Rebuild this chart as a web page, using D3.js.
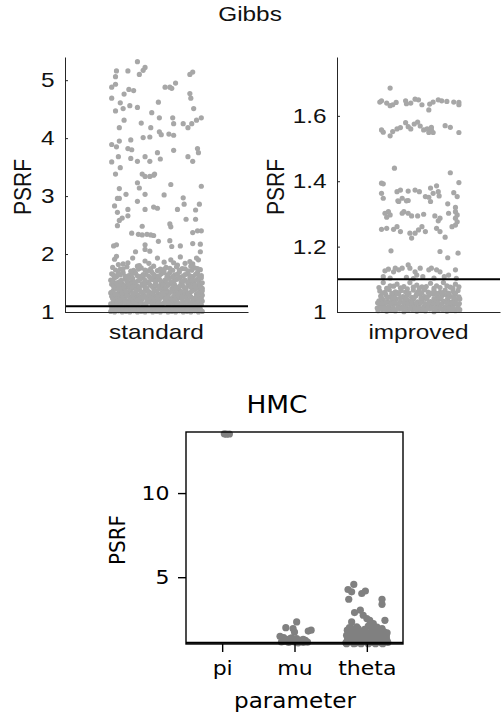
<!DOCTYPE html>
<html><head><meta charset="utf-8">
<script src="https://cdn.jsdelivr.net/npm/d3@7"></script>
<style>body{margin:0;background:#fff}svg{display:block}</style>
</head><body><svg id="c" width="501" height="716"></svg>
<script>
// ---------------- DATA ----------------
const gibbsTitle = "Gibbs";
const hmcTitle = "HMC";
const yLabel = "PSRF";
const xLabelHMC = "parameter";
const threshold = 1.1;
const standardCategory = ["standard"];
const improvedCategory = ["improved"];
const standardTicks = [1, 2, 3, 4, 5];
const improvedTicks = [1, 1.2, 1.4, 1.6];
const hmcCategories = ["pi", "mu", "theta"];
const hmcTicks = [5, 10];

// [jitter (fraction of band), PSRF]
const standardPoints = [
[-0.20,5.32],[-0.12,5.22],[-0.14,5.17],[-0.42,5.16],[-0.30,5.16],[-0.43,5.06],[-0.18,5.10],[0.38,5.14],[0.35,5.10],
[-0.43,4.93],[-0.47,4.88],[-0.34,4.76],[-0.29,4.84],[-0.24,4.82],[0.09,4.88],[0.14,4.88],[0.16,4.86],[0.20,4.95],[0.35,4.77],[0.36,4.69],
[-0.47,4.69],[-0.38,4.61],[-0.28,4.56],[-0.35,4.51],[-0.20,4.53],[-0.43,4.47],[0.02,4.62],[-0.05,4.44],[0.39,4.51],
[0.03,4.35],[-0.34,4.31],[0.17,4.35],[0.18,4.25],[0.28,4.25],[0.37,4.25],[0.33,4.18],[0.42,4.31],[0.47,4.35],[-0.16,4.26],[-0.06,4.18],[-0.39,4.18],
[0.03,4.11],[0.05,4.06],[0.13,4.07],[0.18,4.05],[-0.14,4.01],[-0.07,4.02],[-0.27,3.97],[-0.39,3.95],[-0.47,3.89],[-0.42,3.85],[-0.30,3.82],[-0.26,3.80],[0.01,3.75],[0.18,3.79],[0.43,3.82],[0.44,3.75],
[-0.47,3.59],[-0.40,3.68],[-0.27,3.65],[-0.20,3.60],[-0.12,3.68],[-0.07,3.60],[0.04,3.64],[0.33,3.68],[0.38,3.60],
[-0.38,3.49],[-0.43,3.38],[-0.15,3.38],[-0.12,3.34],[-0.07,3.34],[-0.03,3.36],[-0.02,3.38],
[-0.20,3.23],[-0.18,3.14],[0.15,3.20],[0.47,3.17],[-0.39,3.13],[-0.32,3.03],[-0.12,3.03],[0.08,3.02],[-0.41,2.96],[-0.39,2.96],[0.28,2.97],[-0.20,2.91],
[-0.44,2.83],[0.29,2.86],[0.45,2.86],[-0.30,2.77],[-0.12,2.77],[-0.03,2.81],[0.01,2.79],[0.22,2.77],[0.41,2.76],[-0.41,2.72],[-0.30,2.66],[-0.36,2.62],[-0.39,2.58],[0.31,2.60],[0.41,2.60],
[-0.41,2.49],[-0.15,2.48],[0.14,2.52],[0.15,2.47],[-0.26,2.36],[-0.19,2.34],[-0.15,2.33],[-0.10,2.34],[-0.06,2.33],[-0.03,2.32],[0.38,2.37],[0.43,2.40],[0.47,2.40],
[0.02,2.22],[0.14,2.23],[-0.45,2.14],[-0.42,2.16],[-0.12,2.16],[0.16,2.13],[0.25,2.14],[0.38,2.18],[0.46,2.17],[-0.22,2.04],[-0.12,2.08],[-0.07,2.05],[0.46,2.04],
[-0.44,1.91],[-0.12,1.88],[0.01,1.93],[0.15,1.90],[0.44,1.90],[-0.30,1.85],[0.08,1.86],[0.30,1.84],[-0.40,1.82],[0.22,1.81],[-0.18,1.80],[0.38,1.83],
[-0.46,1.77],[-0.38,1.74],[-0.31,1.78],[-0.24,1.72],[-0.16,1.76],[-0.09,1.71],[-0.03,1.79],[0.04,1.74],[0.10,1.77],[0.17,1.72],[0.21,1.78],[0.27,1.75],[0.33,1.71],[0.40,1.76],[0.46,1.73],[-0.20,1.79],[0.06,1.70],[0.36,1.79],
[-0.47,1.66],[-0.42,1.61],[-0.35,1.68],[-0.29,1.63],[-0.22,1.67],[-0.17,1.61],[-0.11,1.65],[-0.05,1.69],[0.00,1.62],[0.05,1.66],[0.11,1.61],[0.14,1.68],[0.19,1.64],[0.24,1.69],[0.28,1.62],[0.33,1.66],[0.38,1.61],[0.43,1.68],[0.47,1.63],[-0.38,1.64],[-0.02,1.60],[0.25,1.60],
[-0.48,1.55],[-0.44,1.59],[-0.39,1.52],[-0.33,1.57],[-0.27,1.51],[-0.25,1.58],[-0.19,1.54],[-0.14,1.59],[-0.08,1.52],[-0.04,1.56],[0.02,1.58],[0.07,1.51],[0.09,1.55],[0.13,1.59],[0.18,1.53],[0.22,1.57],[0.26,1.51],[0.30,1.55],[0.35,1.58],[0.39,1.52],[0.42,1.56],[0.47,1.59],[-0.11,1.50],[0.16,1.50],[0.45,1.51],
[-0.47,1.48],[-0.43,1.42],[-0.40,1.46],[-0.36,1.49],[-0.32,1.43],[-0.28,1.47],[-0.23,1.41],[-0.20,1.45],[-0.15,1.49],[-0.12,1.43],[-0.07,1.47],[-0.03,1.41],[0.01,1.45],[0.05,1.49],[0.08,1.42],[0.12,1.46],[0.16,1.40],[0.19,1.47],[0.23,1.43],[0.27,1.48],[0.31,1.41],[0.34,1.46],[0.37,1.49],[0.41,1.43],[0.44,1.47],[0.48,1.41],[-0.26,1.50],[0.10,1.50],
[-0.48,1.33],[-0.45,1.38],[-0.41,1.31],[-0.38,1.36],[-0.34,1.39],[-0.30,1.32],[-0.27,1.37],[-0.22,1.34],[-0.18,1.39],[-0.14,1.31],[-0.10,1.36],[-0.06,1.33],[-0.02,1.38],[0.02,1.31],[0.06,1.35],[0.09,1.39],[0.13,1.32],[0.17,1.37],[0.20,1.33],[0.24,1.38],[0.28,1.31],[0.31,1.36],[0.35,1.33],[0.39,1.38],[0.42,1.31],[0.46,1.35],[-0.35,1.30],[-0.08,1.30],[0.25,1.30],[0.47,1.39],
[-0.47,1.27],[-0.44,1.22],[-0.40,1.26],[-0.37,1.29],[-0.33,1.23],[-0.29,1.27],[-0.26,1.21],[-0.22,1.25],[-0.19,1.29],[-0.15,1.22],[-0.11,1.26],[-0.08,1.20],[-0.04,1.24],[-0.01,1.28],[0.03,1.22],[0.07,1.26],[0.10,1.29],[0.14,1.23],[0.18,1.27],[0.21,1.21],[0.25,1.25],[0.29,1.29],[0.32,1.22],[0.36,1.26],[0.40,1.21],[0.43,1.28],[0.47,1.24],[-0.42,1.20],[-0.17,1.20],[0.12,1.20],[0.33,1.20],[0.48,1.29],
[-0.48,1.14],[-0.45,1.18],[-0.42,1.11],[-0.39,1.15],[-0.35,1.19],[-0.32,1.12],[-0.28,1.16],[-0.25,1.10],[-0.21,1.14],[-0.18,1.18],[-0.14,1.11],[-0.11,1.15],[-0.07,1.19],[-0.04,1.12],[0.00,1.16],[0.03,1.10],[0.06,1.14],[0.10,1.18],[0.13,1.11],[0.17,1.15],[0.20,1.19],[0.24,1.12],[0.27,1.16],[0.31,1.10],[0.34,1.14],[0.38,1.18],[0.41,1.11],[0.45,1.15],[0.48,1.19],[-0.30,1.19],[-0.01,1.19],[0.22,1.17],[0.44,1.10],[-0.46,1.10],
[-0.48,1.01],[-0.44,1.00],[-0.40,1.02],[-0.36,1.00],[-0.32,1.01],[-0.28,1.00],[-0.24,1.02],[-0.20,1.00],[-0.16,1.01],[-0.12,1.00],[-0.08,1.02],[-0.04,1.00],[0.00,1.01],[0.04,1.00],[0.08,1.02],[0.12,1.00],[0.16,1.01],[0.20,1.00],[0.24,1.02],[0.28,1.00],[0.32,1.01],[0.36,1.00],[0.40,1.02],[0.44,1.00],[0.48,1.01],
[-0.46,1.04],[-0.42,1.03],[-0.38,1.05],[-0.34,1.03],[-0.30,1.04],[-0.26,1.05],[-0.22,1.03],[-0.18,1.04],[-0.14,1.05],[-0.10,1.03],[-0.06,1.04],[-0.02,1.05],[0.02,1.03],[0.06,1.04],[0.10,1.05],[0.14,1.03],[0.18,1.04],[0.22,1.05],[0.26,1.03],[0.30,1.04],[0.34,1.05],[0.38,1.03],[0.42,1.04],[0.46,1.05],
[-0.47,1.07],[-0.43,1.09],[-0.39,1.06],[-0.35,1.08],[-0.31,1.07],[-0.27,1.09],[-0.23,1.06],[-0.19,1.08],[-0.15,1.07],[-0.11,1.09],[-0.07,1.06],[-0.03,1.08],[0.01,1.07],[0.05,1.09],[0.09,1.06],[0.13,1.08],[0.17,1.07],[0.21,1.09],[0.25,1.06],[0.29,1.08],[0.33,1.07],[0.37,1.09],[0.41,1.06],[0.45,1.08],
[-0.45,1.125],[-0.41,1.165],[-0.37,1.125],[-0.33,1.165],[-0.29,1.125],[-0.24,1.170],[-0.20,1.115],[-0.16,1.160],[-0.12,1.130],[-0.09,1.172],[-0.05,1.150],[-0.02,1.130],[0.02,1.165],[0.05,1.115],[0.08,1.160],[0.12,1.140],[0.15,1.175],[0.19,1.125],[0.22,1.145],[0.26,1.118],[0.29,1.168],[0.33,1.125],[0.36,1.160],[0.40,1.140],[0.43,1.172],[0.47,1.125],
[-0.46,1.235],[-0.42,1.275],[-0.39,1.215],[-0.35,1.250],[-0.31,1.285],[-0.27,1.240],[-0.24,1.270],[-0.20,1.215],[-0.17,1.250],[-0.13,1.285],[-0.10,1.225],[-0.06,1.265],[-0.03,1.210],[0.01,1.245],[0.05,1.285],[0.09,1.225],[0.12,1.265],[0.16,1.215],[0.20,1.245],[0.23,1.280],[0.27,1.225],[0.31,1.260],[0.34,1.295],[0.38,1.235],[0.42,1.265],[0.45,1.215],
[-0.47,1.345],[-0.43,1.310],[-0.40,1.385],[-0.36,1.320],[-0.32,1.355],[-0.28,1.395],[-0.25,1.315],[-0.21,1.365],[-0.16,1.345],[-0.12,1.385],[-0.08,1.350],[-0.04,1.320],[0.00,1.360],[0.04,1.395],[0.08,1.320],[0.11,1.360],[0.15,1.345],[0.19,1.390],[0.22,1.310],[0.26,1.350],[0.30,1.390],[0.33,1.315],[0.37,1.360],[0.41,1.395],[0.44,1.330],[0.48,1.365],
[-0.45,1.445],[-0.41,1.485],[-0.38,1.415],[-0.34,1.455],[-0.30,1.490],[-0.26,1.425],[-0.22,1.470],[-0.18,1.425],[-0.14,1.460],[-0.10,1.405],[-0.05,1.445],[-0.01,1.485],[0.03,1.425],[0.07,1.460],[0.10,1.410],[0.14,1.485],[0.18,1.440],[0.21,1.415],[0.25,1.455],[0.29,1.425],[0.33,1.490],[0.36,1.430],[0.40,1.470],[0.43,1.415],[0.46,1.455],
[-0.46,1.535],[-0.42,1.505],[-0.37,1.545],[-0.31,1.530],[-0.29,1.585],[-0.23,1.520],[-0.17,1.570],[-0.12,1.545],[-0.06,1.585],[-0.01,1.530],[0.04,1.545],[0.11,1.575],[0.15,1.525],[0.20,1.555],[0.24,1.590],[0.28,1.535],[0.33,1.515],[0.37,1.550],[0.44,1.535],[0.48,1.505],
[-0.45,1.635],[-0.40,1.675],[-0.33,1.620],[-0.26,1.655],[-0.20,1.625],[-0.14,1.645],[-0.08,1.615],[-0.03,1.650],[0.03,1.625],[0.08,1.680],[0.12,1.640],[0.17,1.610],[0.22,1.655],[0.30,1.645],[0.35,1.625],[0.41,1.650],[0.45,1.615],
[-0.43,1.725],[-0.35,1.745],[-0.27,1.705],[-0.19,1.740],[-0.12,1.725],[-0.06,1.750],[0.01,1.715],[0.08,1.735],[0.14,1.755],[0.24,1.725],[0.30,1.745],[0.37,1.720],[0.43,1.750],
[-0.35,1.83],[-0.08,1.84],[0.18,1.85],[0.35,1.87],[-0.25,1.93],[0.25,1.95],[-0.42,1.96],[0.42,1.93]
];

const improvedPoints = [
[-0.33,1.685],[-0.45,1.642],[-0.43,1.646],[-0.37,1.639],[-0.33,1.631],[-0.30,1.634],[-0.26,1.641],[-0.14,1.637],[-0.15,1.646],[-0.09,1.639],[-0.04,1.651],[0.00,1.649],[0.04,1.634],[0.12,1.618],[0.13,1.636],[0.17,1.642],[0.23,1.649],[0.27,1.646],[0.33,1.644],[0.41,1.642],[0.47,1.641],[0.47,1.634],
[-0.43,1.557],[-0.41,1.550],[-0.33,1.539],[-0.30,1.552],[-0.25,1.560],[-0.21,1.564],[-0.15,1.579],[-0.12,1.567],[-0.09,1.560],[-0.05,1.575],[-0.01,1.581],[0.02,1.569],[0.06,1.557],[0.10,1.560],[0.12,1.549],[0.15,1.557],[0.17,1.549],[0.15,1.565],[0.31,1.570],[0.37,1.565],[0.47,1.549],
[-0.28,1.440],[0.37,1.426],[-0.43,1.394],[-0.41,1.392],[0.47,1.396],[-0.25,1.368],[-0.21,1.373],[-0.12,1.370],[-0.04,1.373],[0.01,1.368],[0.14,1.379],[0.21,1.386],[0.17,1.363],[0.23,1.368],[0.41,1.365],[0.45,1.353],[-0.43,1.363],[0.08,1.353],[0.12,1.351],[-0.19,1.348],[-0.12,1.341],[-0.24,1.340],[-0.41,1.348],[0.24,1.355],
[-0.23,1.338],[-0.14,1.340],[0.14,1.338],[0.34,1.331],[0.43,1.320],
[-0.39,1.302],[-0.35,1.307],[-0.33,1.297],[-0.37,1.290],[-0.19,1.302],[-0.17,1.307],[-0.12,1.302],[-0.08,1.294],[-0.01,1.294],[0.06,1.299],[0.19,1.294],[0.23,1.279],[0.25,1.287],[0.35,1.302],[0.43,1.307],[0.45,1.297],[0.43,1.287],[0.45,1.276],[0.43,1.266],
[-0.43,1.253],[-0.37,1.256],[-0.29,1.253],[-0.25,1.261],[-0.21,1.246],[-0.10,1.241],[-0.08,1.226],[-0.04,1.241],[0.00,1.251],[0.04,1.261],[0.08,1.246],[0.21,1.256],[0.25,1.246],[0.31,1.229],[0.39,1.261],
[-0.32,1.187],[0.25,1.185],[0.34,1.166],[0.46,1.180],
[-0.39,1.126],[-0.35,1.131],[-0.29,1.123],[-0.27,1.134],[-0.23,1.129],[-0.19,1.134],[-0.12,1.144],[-0.10,1.134],[-0.04,1.123],[0.02,1.134],[-0.02,1.113],[0.12,1.129],[0.15,1.134],[0.21,1.129],[0.25,1.123],[0.35,1.113],[0.43,1.129],
[-0.41,1.108],[-0.33,1.104],[-0.14,1.106],[-0.06,1.102],[0.05,1.108],[0.18,1.104],[0.30,1.108],[0.44,1.103],
[-0.41,1.090],[-0.33,1.080],[-0.25,1.085],[-0.17,1.078],[-0.10,1.090],[-0.02,1.082],[0.04,1.077],[0.14,1.088],[0.21,1.080],[0.29,1.090],[0.37,1.076],[0.43,1.085],
[-0.47,1.004],[-0.42,1.008],[-0.37,1.002],[-0.32,1.006],[-0.27,1.003],[-0.22,1.009],[-0.17,1.001],[-0.12,1.005],[-0.07,1.008],[-0.02,1.002],[0.03,1.006],[0.08,1.003],[0.13,1.009],[0.18,1.001],[0.23,1.005],[0.28,1.008],[0.33,1.002],[0.38,1.006],[0.43,1.004],[0.48,1.007],
[-0.45,1.018],[-0.40,1.022],[-0.35,1.016],[-0.29,1.024],[-0.24,1.019],[-0.19,1.015],[-0.14,1.023],[-0.09,1.017],[-0.04,1.021],[0.01,1.025],[0.06,1.016],[0.11,1.020],[0.16,1.024],[0.21,1.017],[0.26,1.022],[0.31,1.015],[0.36,1.019],[0.41,1.024],[0.46,1.018],
[-0.46,1.034],[-0.41,1.038],[-0.36,1.031],[-0.31,1.036],[-0.26,1.040],[-0.21,1.032],[-0.16,1.037],[-0.11,1.033],[-0.06,1.039],[-0.01,1.031],[0.04,1.035],[0.09,1.040],[0.14,1.032],[0.19,1.036],[0.24,1.039],[0.29,1.033],[0.34,1.037],[0.39,1.031],[0.44,1.038],
[-0.44,1.049],[-0.38,1.053],[-0.33,1.046],[-0.28,1.051],[-0.23,1.055],[-0.18,1.047],[-0.13,1.052],[-0.08,1.045],[-0.03,1.050],[0.02,1.054],[0.07,1.047],[0.12,1.051],[0.17,1.055],[0.22,1.046],[0.27,1.050],[0.32,1.053],[0.37,1.048],[0.42,1.052],[0.47,1.046],
[-0.45,1.064],[-0.39,1.060],[-0.34,1.068],[-0.27,1.062],[-0.20,1.066],[-0.15,1.061],[-0.06,1.067],[0.00,1.063],[0.07,1.069],[0.11,1.061],[0.18,1.065],[0.25,1.060],[0.31,1.067],[0.40,1.063],[0.46,1.066],
[-0.48,1.012],[-0.44,1.013],[-0.395,1.011],[-0.345,1.012],[-0.295,1.013],[-0.245,1.010],[-0.195,1.012],[-0.145,1.013],[-0.095,1.011],[-0.045,1.012],[0.005,1.013],[0.055,1.010],[0.105,1.012],[0.155,1.013],[0.205,1.011],[0.255,1.012],[0.305,1.010],[0.355,1.013],[0.405,1.012],[0.455,1.011],
[-0.475,1.028],[-0.425,1.027],[-0.375,1.029],[-0.325,1.026],[-0.275,1.030],[-0.225,1.027],[-0.175,1.028],[-0.125,1.026],[-0.075,1.029],[-0.025,1.027],[0.025,1.028],[0.075,1.026],[0.125,1.029],[0.175,1.027],[0.225,1.028],[0.275,1.026],[0.325,1.029],[0.375,1.027],[0.425,1.028],[0.475,1.026],
[-0.43,1.043],[-0.36,1.044],[-0.29,1.042],[-0.21,1.043],[-0.14,1.041],[-0.05,1.044],[0.03,1.042],[0.10,1.043],[0.18,1.041],[0.26,1.044],[0.34,1.042],[0.41,1.043],[0.48,1.040],
[-0.42,1.058],[-0.31,1.057],[-0.24,1.059],[-0.11,1.058],[-0.02,1.057],[0.04,1.059],[0.14,1.058],[0.21,1.057],[0.28,1.059],[0.35,1.058],[0.43,1.057],
[-0.46,1.075],[-0.37,1.072],[-0.29,1.079],[-0.21,1.074],[-0.13,1.071],[-0.06,1.076],[0.01,1.073],[0.09,1.078],[0.18,1.072],[0.25,1.075],[0.33,1.080],[0.40,1.073],[0.47,1.077]
];

// [jitter (fraction of category step), PSRF]
const hmcPi = [[0.03,13.52],[0.06,13.50],[0.10,13.51]];
const hmcMu = [
[0.03,2.34],[-0.12,2.00],[-0.02,1.95],[0.00,1.74],[0.19,1.80],[0.23,1.85],[-0.20,1.49],
[-0.15,1.41],[-0.06,1.35],[0.03,1.35],[0.12,1.31],[-0.11,1.29],[-0.02,1.25],[0.08,1.25],[0.15,1.25],
[-0.18,1.15],[-0.08,1.12],[0.05,1.10],[0.18,1.14],[0.10,1.18],[-0.13,1.20],[0.00,1.15],[0.12,1.12],[-0.04,1.40]
];
const hmcTheta = [
[-0.18,4.57],[-0.26,4.27],[-0.21,4.13],[-0.07,4.03],[-0.02,4.18],[-0.25,3.69],[0.21,3.69],[0.21,3.39],
[-0.17,2.90],[-0.09,3.04],[0.25,2.44],[-0.05,2.74],[0.00,2.54],[0.04,2.44],[-0.21,2.34],[0.09,2.24],[0.14,2.04],[0.21,1.95],[-0.24,2.00],[-0.19,1.85],[-0.12,1.95],
[-0.27,1.85],[-0.22,1.97],[-0.14,2.05],[-0.10,1.80],[-0.03,1.90],[0.02,2.10],[0.07,1.95],[0.12,1.78],[0.18,1.88],[0.24,1.75],[0.28,1.70],[-0.19,1.72],[0.05,1.72],
[-0.28,1.55],[-0.24,1.62],[-0.20,1.45],[-0.16,1.58],[-0.12,1.66],[-0.08,1.48],[-0.04,1.60],[0.00,1.52],[0.04,1.65],[0.08,1.44],[0.12,1.57],[0.16,1.50],[0.20,1.63],[0.24,1.46],[0.27,1.56],[-0.26,1.42],[0.10,1.68],
[-0.29,1.10],[-0.27,1.25],[-0.25,1.35],[-0.22,1.15],[-0.19,1.28],[-0.16,1.08],[-0.13,1.20],[-0.10,1.33],[-0.07,1.12],[-0.04,1.24],[-0.01,1.38],[0.02,1.09],[0.05,1.18],[0.08,1.30],[0.11,1.14],[0.14,1.26],[0.17,1.36],[0.20,1.10],[0.23,1.21],[0.26,1.32],[0.29,1.12],[-0.28,1.05],[-0.18,1.05],[-0.08,1.05],[0.02,1.05],[0.12,1.05],[0.22,1.05],[0.28,1.22],
[-0.23,1.50],[-0.14,1.40],[-0.02,1.46],[0.06,1.38],[0.15,1.42],[0.22,1.52],[-0.11,1.15],[0.08,1.12],[0.25,1.16],[-0.21,1.22],
[-0.26,1.30],[-0.17,1.18],[-0.06,1.30],[0.04,1.24],[0.13,1.18],[0.19,1.30],[0.27,1.42],[-0.09,1.62],[0.01,1.34],[-0.15,1.50]
];

// ---------------- DRAW ----------------
const svg = d3.select("#c");
const sansTop = "'Liberation Sans', Arial, Helvetica, sans-serif";
const sansBot = "'DejaVu Sans', sans-serif";
const axisCol = "#262626";
const SXT = 1.16;  // horizontal stretch of the original's text
const SXB = 1.1;

function gibbsPanel(cfg) {
  const g = svg.append("g");
  const x = d3.scaleBand().domain(cfg.cat).range([cfg.x0, cfg.x1]).paddingInner(0).paddingOuter(cfg.pad);
  const y = d3.scaleLinear().domain(cfg.ydom).range([312, 57]);
  const bw = x.bandwidth();
  g.selectAll("circle").data(cfg.pts).join("circle")
    .attr("cx", d => x(cfg.cat[0]) + (d[0] + 0.5) * bw)
    .attr("cy", d => y(d[1]))
    .attr("r", 2.6)
    .attr("fill", "#a7a7a7");
  g.append("line")
    .attr("x1", cfg.x0).attr("x2", cfg.x1)
    .attr("y1", y(threshold)).attr("y2", y(threshold))
    .attr("stroke", "#000").attr("stroke-width", 2);
  const ya = g.append("g").attr("transform", `translate(${cfg.x0},0)`)
    .call(d3.axisLeft(y).tickValues(cfg.ticks).tickSize(-3).tickSizeOuter(0).tickPadding(9).tickFormat(d3.format("")));
  const xa = g.append("g").attr("transform", `translate(0,${y.range()[0]})`)
    .call(d3.axisBottom(x).tickSize(0).tickSizeOuter(0).tickPadding(12));
  [ya, xa].forEach(a => {
    a.selectAll("path,line").attr("stroke", axisCol).attr("stroke-width", 1);
    a.selectAll("text").attr("fill", "#111").attr("transform", `scale(${SXT},1)`)
      .style("font-family", sansTop).style("font-size", "21px");
  });
  g.append("text")
    .attr("transform", `translate(${cfg.labX},187) rotate(-90) scale(1,${SXT})`)
    .attr("text-anchor", "middle")
    .style("font-family", sansTop).style("font-size", "21px").attr("fill", "#111")
    .text(yLabel);
}

gibbsPanel({cat: standardCategory, x0: 65, x1: 248, pad: 0.46, ydom: [1, 5.4], ticks: standardTicks, pts: standardPoints, labX: 31});
gibbsPanel({cat: improvedCategory, x0: 337, x1: 500, pad: 0.448, ydom: [1, 1.78], ticks: improvedTicks, pts: improvedPoints, labX: 284});

svg.append("text").attr("transform", `translate(250,21) scale(${SXT},1)`).attr("text-anchor", "middle")
  .style("font-family", sansTop).style("font-size", "21px").attr("fill", "#111").text(gibbsTitle);

// HMC panel
const hx = d3.scalePoint().domain(hmcCategories).range([186, 403]).padding(0.5);
const hy = d3.scaleLinear().domain([1.03, 13.63]).range([644, 432]);
const step = hx.step();
const hg = svg.append("g");
const hmcSeries = [["pi", hmcPi], ["mu", hmcMu], ["theta", hmcTheta]];
hmcSeries.forEach(([cat, pts]) => {
  hg.append("g").selectAll("circle").data(pts).join("circle")
    .attr("cx", d => hx(cat) + d[0] * step)
    .attr("cy", d => hy(d[1]))
    .attr("r", 3.6)
    .attr("fill", "#808080");
});
hg.append("line").attr("x1", 186).attr("x2", 403).attr("y1", hy(threshold)).attr("y2", hy(threshold))
  .attr("stroke", "#000").attr("stroke-width", 2);
hg.append("rect").attr("x", 186).attr("y", 432).attr("width", 217).attr("height", 212)
  .attr("fill", "none").attr("stroke", "#000").attr("stroke-width", 1.4);
const hya = hg.append("g").attr("transform", "translate(186,0)")
  .call(d3.axisLeft(hy).tickValues(hmcTicks).tickSize(8).tickSizeOuter(0).tickPadding(7));
const hxa = hg.append("g").attr("transform", "translate(0,644)")
  .call(d3.axisBottom(hx).tickSize(8).tickSizeOuter(0).tickPadding(9));
[hya, hxa].forEach(a => {
  a.select(".domain").remove();
  a.selectAll("line").attr("stroke", "#000").attr("stroke-width", 1.4);
  a.selectAll("text").attr("fill", "#000").attr("transform", `scale(${SXB},1)`)
    .style("font-family", sansBot).style("font-size", "20px");
});
hg.append("text").attr("transform", `translate(277,413) scale(${SXB},1)`).attr("text-anchor", "middle")
  .style("font-family", sansBot).style("font-size", "24px").attr("fill", "#000").text(hmcTitle);
hg.append("text").attr("transform", `translate(295,708) scale(${SXB},1)`).attr("text-anchor", "middle")
  .style("font-family", sansBot).style("font-size", "21px").attr("fill", "#000").text(xLabelHMC);
hg.append("text").attr("transform", `translate(125,540) rotate(-90) scale(1,${SXB})`).attr("text-anchor", "middle")
  .style("font-family", sansBot).style("font-size", "20px").attr("fill", "#000").text(yLabel);
</script>
</body></html>
